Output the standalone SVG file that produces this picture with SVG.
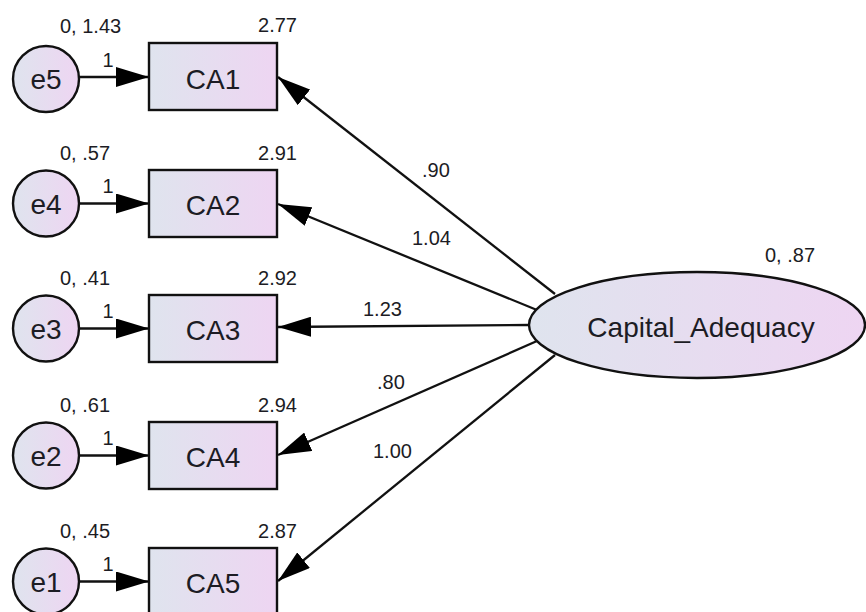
<svg xmlns="http://www.w3.org/2000/svg" width="866" height="612" viewBox="0 0 866 612">
<defs>
<linearGradient id="g" x1="0" y1="0" x2="1" y2="0">
<stop offset="0" stop-color="#dfe4ee"/>
<stop offset="1" stop-color="#eed5f2"/>
</linearGradient>
<marker id="ah" markerUnits="userSpaceOnUse" markerWidth="33" markerHeight="20" refX="33" refY="10" orient="auto" viewBox="0 0 33 20">
<path d="M0,0 L33,10 L0,20 z" fill="#000"/>
</marker>
</defs>
<style>
.n{fill:url(#g);stroke:#111;stroke-width:2.4}
.c line{stroke:#111;stroke-width:2.3;marker-end:url(#ah)}
text{font-family:"Liberation Sans",Arial,sans-serif;fill:#1c1c24}
.big{font-size:28px;text-anchor:middle}
.lbl{font-size:20px}
.m{text-anchor:middle}
.e{text-anchor:end}
</style>
<rect width="866" height="612" fill="#fff"/>
<g id="connectors" class="c">
<line x1="79" y1="77" x2="149" y2="77"/>
<line x1="79" y1="203.5" x2="149" y2="203.5"/>
<line x1="79" y1="328.5" x2="149" y2="328.5"/>
<line x1="79" y1="455.5" x2="149" y2="455.5"/>
<line x1="79" y1="581.5" x2="149" y2="581.5"/>
<line x1="555" y1="294" x2="278" y2="77"/>
<line x1="537" y1="310" x2="278" y2="204"/>
<line x1="529" y1="325" x2="278" y2="327"/>
<line x1="537" y1="341" x2="278" y2="455"/>
<line x1="555" y1="355" x2="278" y2="581"/>
</g>
<g id="path-labels" class="lbl">
<text x="422" y="177">.90</text>
<text x="412" y="245">1.04</text>
<text x="363" y="316">1.23</text>
<text x="377" y="389">.80</text>
<text x="373" y="458">1.00</text>
</g>
<g id="CapitalAdequacy">
<ellipse class="n" cx="697" cy="325" rx="168" ry="53"/>
<text class="big" x="701" y="337">Capital_Adequacy</text>
<text class="lbl" x="765" y="262">0, .87</text>
</g>
<g id="CA1">
<rect class="n" x="149" y="43" width="128" height="67"/>
<text class="big" x="213" y="88.5">CA1</text>
<text class="lbl e" x="297" y="32">2.77</text>
</g>
<g id="CA2">
<rect class="n" x="149" y="170" width="128" height="67"/>
<text class="big" x="213" y="215">CA2</text>
<text class="lbl e" x="297" y="160">2.91</text>
</g>
<g id="CA3">
<rect class="n" x="149" y="295" width="128" height="67"/>
<text class="big" x="213" y="340">CA3</text>
<text class="lbl e" x="297" y="285">2.92</text>
</g>
<g id="CA4">
<rect class="n" x="149" y="422" width="128" height="67"/>
<text class="big" x="213" y="467">CA4</text>
<text class="lbl e" x="297" y="412">2.94</text>
</g>
<g id="CA5">
<rect class="n" x="149" y="548" width="128" height="67"/>
<text class="big" x="213" y="593">CA5</text>
<text class="lbl e" x="297" y="538">2.87</text>
</g>
<g id="e5">
<circle class="n" cx="46" cy="79" r="33"/>
<text class="big" x="46" y="88.5">e5</text>
<text class="lbl" x="60" y="33">0, 1.43</text>
<text class="lbl m" x="108" y="67">1</text>
</g>
<g id="e4">
<circle class="n" cx="46" cy="203.5" r="33"/>
<text class="big" x="46" y="213.5">e4</text>
<text class="lbl" x="60" y="160">0, .57</text>
<text class="lbl m" x="108" y="193">1</text>
</g>
<g id="e3">
<circle class="n" cx="46" cy="328.5" r="33"/>
<text class="big" x="46" y="338.5">e3</text>
<text class="lbl" x="60" y="285">0, .41</text>
<text class="lbl m" x="108" y="318">1</text>
</g>
<g id="e2">
<circle class="n" cx="46" cy="455.5" r="33"/>
<text class="big" x="46" y="465.5">e2</text>
<text class="lbl" x="60" y="412">0, .61</text>
<text class="lbl m" x="108" y="445">1</text>
</g>
<g id="e1">
<circle class="n" cx="46" cy="581.5" r="33"/>
<text class="big" x="46" y="591.5">e1</text>
<text class="lbl" x="60" y="538">0, .45</text>
<text class="lbl m" x="108" y="571">1</text>
</g>
</svg>
